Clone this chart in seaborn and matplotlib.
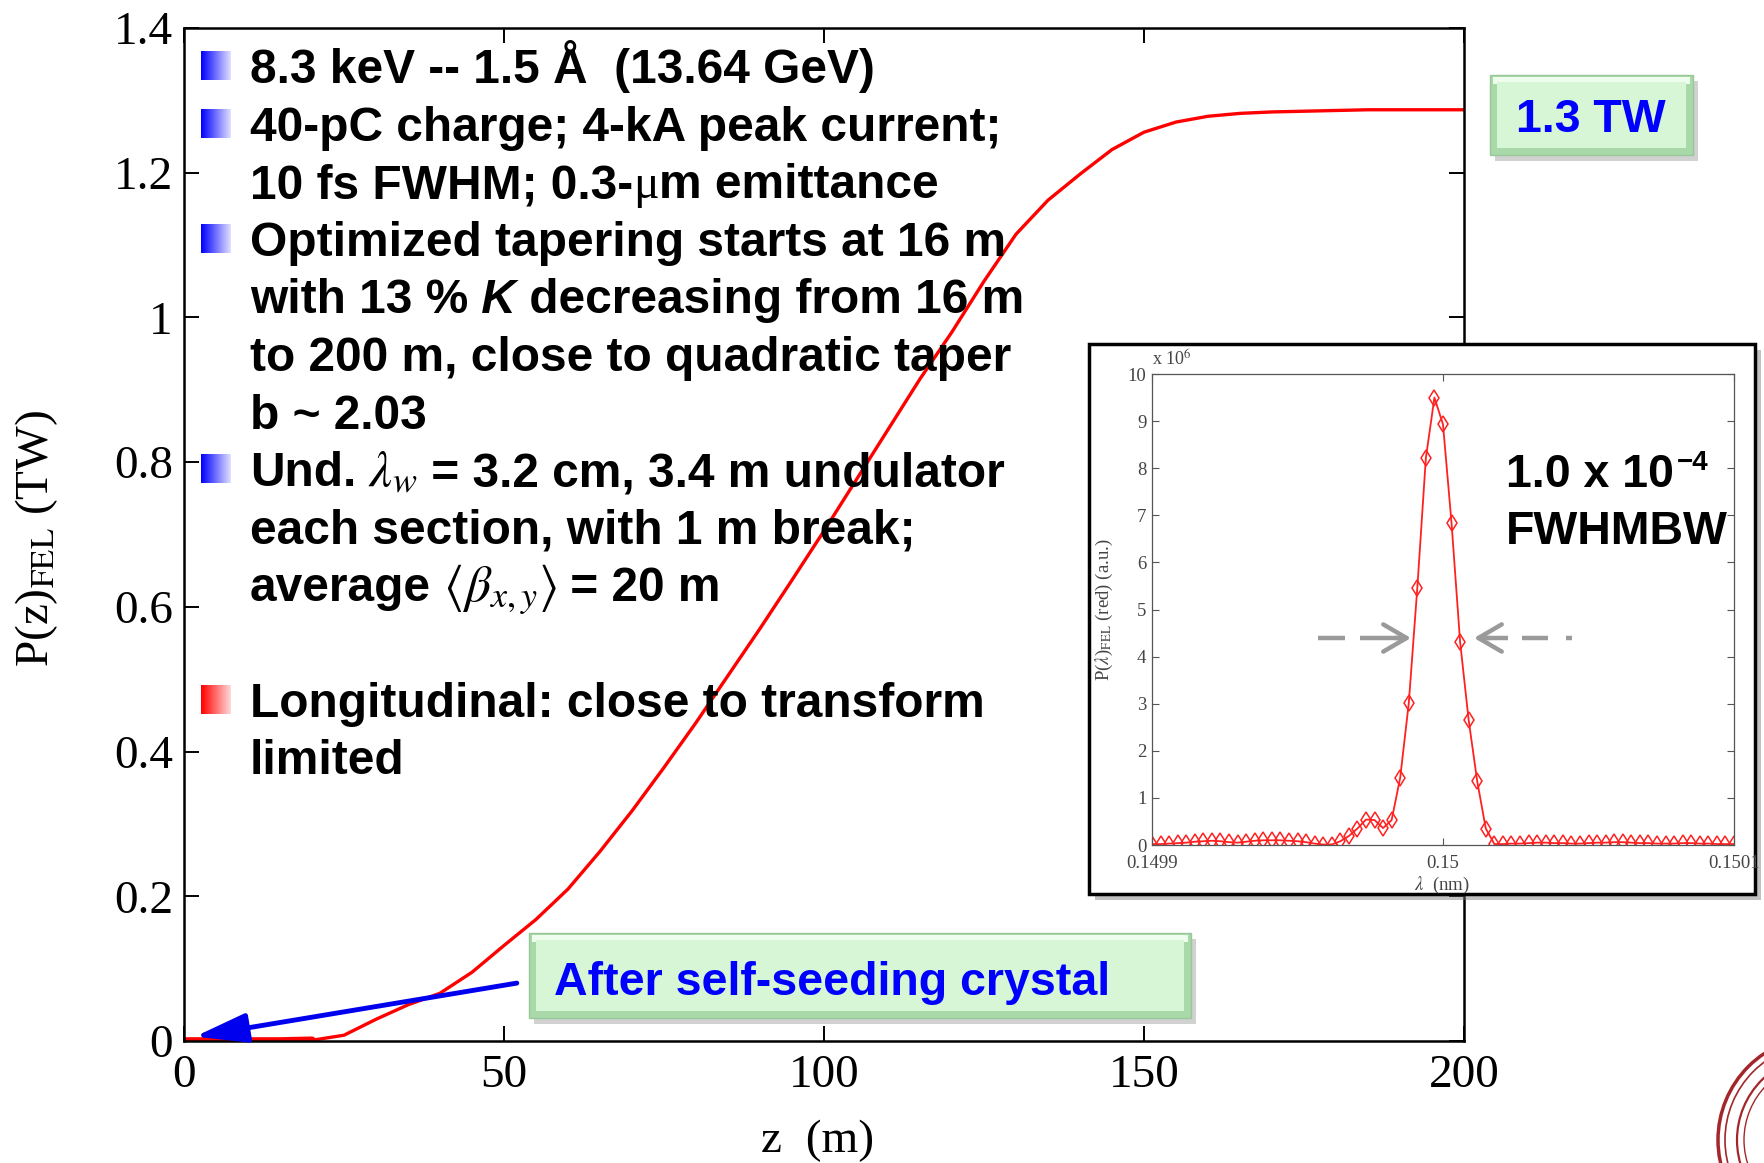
import numpy as np
import matplotlib
matplotlib.use("Agg")
import matplotlib.pyplot as plt
import seaborn as sns
import pandas as pd
from matplotlib.patches import Rectangle, Circle
from matplotlib.font_manager import FontProperties

W, H = 1765, 1163

# FEL power along the undulator (TW)
z_m = [0, 5, 10, 15, 20, 25, 30, 35, 40, 45, 50, 55, 60, 65, 70, 75, 80, 85,
       90, 95, 100, 105, 110, 115, 120, 125, 130, 135, 140, 145, 150, 155, 160,
       165, 170, 175, 180, 185, 190, 195, 200]
p_tw = [0.0, 0.0, 0.0, 0.0, 0.001, 0.008, 0.03, 0.05, 0.066, 0.095, 0.132,
        0.168, 0.21, 0.262, 0.318, 0.378, 0.44, 0.505, 0.57, 0.637, 0.705,
        0.775, 0.845, 0.915, 0.98, 1.05, 1.115, 1.162, 1.198, 1.232, 1.256,
        1.27, 1.278, 1.282, 1.284, 1.285, 1.286, 1.287, 1.287, 1.287, 1.287]
x_ticks = [0, 50, 100, 150, 200]
y_ticks = [0, 0.2, 0.4, 0.6, 0.8, 1.0, 1.2, 1.4]
y_tick_labels = ["0", "0.2", "0.4", "0.6", "0.8", "1", "1.2", "1.4"]

# Output spectrum (a.u., x 1e6) on a uniform wavelength grid
lam_lo, lam_hi = 0.1499, 0.1501
spec_au = [0.02, 0.02, 0.03, 0.04, 0.05, 0.07, 0.08, 0.09, 0.08, 0.06, 0.05,
           0.07, 0.09, 0.10, 0.10, 0.10, 0.09, 0.08, 0.06, 0.03, 0.01, 0.01,
           0.08, 0.19, 0.35, 0.54, 0.53, 0.36, 0.53, 1.43, 3.01, 5.46, 8.22,
           9.50, 8.93, 6.83, 4.31, 2.65, 1.35, 0.35, 0.02,
           0.02, 0.03, 0.03, 0.04, 0.05, 0.05, 0.04, 0.04, 0.03, 0.03, 0.04,
           0.05, 0.05, 0.06, 0.06, 0.05, 0.04, 0.04, 0.03, 0.03, 0.03, 0.04,
           0.04, 0.03, 0.03, 0.02, 0.02, 0.02]
lam_ticks = [0.1499, 0.15, 0.1501]
lam_tick_labels = ["0.1499", "0.15", "0.1501"]

sns.set_theme(style="ticks")
plt.rcParams["font.family"] = ["Liberation Serif", "DejaVu Serif"]
plt.rcParams["mathtext.fontset"] = "stix"
plt.rcParams["text.color"] = "black"
plt.rcParams["xtick.color"] = "black"
plt.rcParams["ytick.color"] = "black"
plt.rcParams["axes.labelcolor"] = "black"

fig = plt.figure(figsize=(W / 100, H / 100), dpi=100)

# ---------------- main power curve ----------------
ax = fig.add_axes([184 / W, 1 - 1041 / H, 1280 / W, 1013 / H], zorder=0)
df = pd.DataFrame({"z": z_m, "P": p_tw})
sns.lineplot(data=df, x="z", y="P", ax=ax, color="#ff0000", lw=2.4)
sns.lineplot(data=df[df["z"] <= 22], x="z", y="P", ax=ax, color="#ff0000", lw=5.5)
ax.set_xlim(0, 200)
ax.set_ylim(0, 1.4)
ax.set_xticks(x_ticks)
ax.set_xticklabels([str(v) for v in x_ticks])
ax.set_yticks(y_ticks)
ax.set_yticklabels(y_tick_labels)
ax.set_xlabel("")
ax.set_ylabel("")
ax.tick_params(direction="in", length=11, width=1.4, top=True, right=True,
               labelsize=34, colors="black")
ax.tick_params(axis="y", pad=8)
ax.tick_params(axis="x", pad=10)
for s in ax.spines.values():
    s.set_linewidth(1.8)
    s.set_color("black")

ax.annotate("", xy=(1.7, 0.006), xytext=(52, 0.08),
            arrowprops=dict(arrowstyle="-|>,head_length=1.6,head_width=0.45",
                            color="#0000ee", lw=3.5, mutation_scale=20,
                            shrinkA=0, shrinkB=0))

# ---------------- overlay in pixel coordinates ----------------
ov = fig.add_axes([0, 0, 1, 1], zorder=1)
ov.set_xlim(0, W)
ov.set_ylim(H, 0)
ov.axis("off")
ov.patch.set_alpha(0)

ov.text(37, 538, "P(z)$_{\\mathrm{FEL}}$ (TW)", rotation=90, ha="center",
        va="center", fontsize=34, family="Liberation Serif", color="black")
ov.text(818, 1152, "z  (m)", ha="center", va="baseline", fontsize=34,
        family="Liberation Serif", color="black")

renderer = fig.canvas.get_renderer()
FS = 34.5
f_b = FontProperties(family="Liberation Sans", weight="bold", size=FS)
f_bi = FontProperties(family="Liberation Sans", weight="bold", style="italic", size=FS)
f_s = FontProperties(family="Liberation Serif", size=FS)
f_m = FontProperties(size=37)
styles = {"b": f_b, "bi": f_bi, "s": f_s, "m": f_m}


def draw_runs(x, y, runs, color="black"):
    for txt, st in runs:
        t = ov.text(x, y, txt, fontproperties=styles[st], va="baseline",
                    ha="left", color=color)
        x += t.get_window_extent(renderer).width
    return x


lines = [
    [("8.3 keV -- 1.5 Å  (13.64 GeV)", "b")],
    [("40-pC charge; 4-kA peak current;", "b")],
    [("10 fs FWHM; 0.3-", "b"), ("μ", "s"), ("m emittance", "b")],
    [("Optimized tapering starts at 16 m", "b")],
    [("with 13 %", "b"), (" K", "bi"), (" decreasing from 16 m", "b")],
    [("to 200 m, close to quadratic taper", "b")],
    [("b ~ 2.03", "b")],
    [("Und.", "b"), (" $\\lambda_w$", "m"), (" = 3.2 cm, 3.4 m undulator", "b")],
    [("each section, with 1 m break;", "b")],
    [("average", "b"), (" $\\langle\\beta_{x,y}\\rangle$", "m"), (" = 20 m", "b")],
    [],
    [("Longitudinal: close to transform", "b")],
    [("limited", "b")],
]
bullet_rows = {0: "blue", 1: "blue", 3: "blue", 7: "blue", 11: "red"}
grad = np.linspace(0, 1, 64)[None, :]
for i, runs in enumerate(lines):
    base = 83 + 57.6 * i
    if runs:
        draw_runs(250, base, runs)
    if i in bullet_rows:
        if bullet_rows[i] == "blue":
            rgb = np.stack([0.0 + 0.88 * grad, 0.0 + 0.88 * grad,
                            np.ones_like(grad)], axis=-1)
        else:
            rgb = np.stack([np.ones_like(grad), 0.0 + 0.85 * grad,
                            0.0 + 0.85 * grad], axis=-1)
        ov.imshow(rgb, extent=(201, 231, base - 3, base - 32), aspect="auto",
                  interpolation="bilinear", zorder=3)
ov.set_xlim(0, W)
ov.set_ylim(H, 0)


def bevel_box(x0, y0, x1, y1):
    w, h = x1 - x0, y1 - y0
    ov.add_patch(Rectangle((x0 + 5, y0 + 6), w, h, fc="black", alpha=0.18,
                           ec="none", zorder=2))
    ov.add_patch(Rectangle((x0, y0), w, h, fc="#a9d9a9", ec="#98c898",
                           lw=1, zorder=2))
    ov.add_patch(Rectangle((x0 + 3, y0 + 2), w - 6, 7, fc="#effdef",
                           ec="none", zorder=2))
    ov.add_patch(Rectangle((x0 + 7, y0 + 7), w - 14, h - 14, fc="#d6f6d6",
                           ec="none", zorder=2))


bevel_box(1490, 75, 1693, 155)
ov.text(1591, 115, "1.3 TW", fontproperties=FontProperties(
    family="Liberation Sans", weight="bold", size=33.5), color="#0000ff",
    ha="center", va="center_baseline", zorder=4)
bevel_box(529, 933, 1191, 1018)
ov.text(554, 995, "After self-seeding crystal", fontproperties=FontProperties(
    family="Liberation Sans", weight="bold", size=33.5), color="#0000ff",
    ha="left", va="baseline", zorder=4)

# inset frame
ov.add_patch(Rectangle((1095, 350), 666, 550, fc="#777777", alpha=0.45,
                       ec="none", zorder=2))
ov.add_patch(Rectangle((1089, 344), 666, 550, fc="white", ec="black", lw=2.5,
                       zorder=2))

# seal in the corner
for r, lw in [(104, 2.5), (97, 1.2), (85, 1.6), (78, 1.0)]:
    ov.add_patch(Circle((1822, 1140), r, fill=False, ec="#a3262a", lw=lw,
                        zorder=2))

# inset annotations
ov.text(1152, 366, "x 10$^6$", fontsize=13, color="#444444", ha="left",
        va="baseline", family="Liberation Serif", zorder=4)
ov.text(1104, 610, "P($\\lambda$)$_{\\mathrm{FEL}}$ (red) (a.u.)", rotation=90,
        fontsize=13.5, color="#444444", ha="center", va="center",
        family="Liberation Serif", zorder=4)
ov.text(1442, 885, "$\\lambda$  (nm)", fontsize=13.5, color="#444444",
        ha="center", va="center", family="Liberation Serif", zorder=4)
f_big = FontProperties(family="Liberation Sans", weight="bold", size=33.5)
f_sup = FontProperties(family="Liberation Sans", weight="bold", size=20)
t1 = ov.text(1506, 487, "1.0 x 10", fontproperties=f_big, va="baseline",
             ha="left", zorder=4, color="black")
xe = 1506 + t1.get_window_extent(renderer).width + 3
ov.text(xe, 470, "\u22124", fontproperties=f_sup, va="baseline", ha="left",
        zorder=4, color="black")

gray = "#9a9a9a"
ov.plot([1318, 1345], [638, 638], color=gray, lw=3.2, zorder=4,
        solid_capstyle="butt")
ov.plot([1360, 1405], [638, 638], color=gray, lw=3.2, zorder=4,
        solid_capstyle="butt")
ov.annotate("", xy=(1411, 638), xytext=(1395, 638), zorder=4,
            arrowprops=dict(arrowstyle="->,head_length=1.2,head_width=0.7",
                            color=gray, lw=3.2, mutation_scale=14,
                            shrinkA=0, shrinkB=0))
ov.plot([1480, 1508], [638, 638], color=gray, lw=3.2, zorder=4,
        solid_capstyle="butt")
ov.plot([1522, 1548], [638, 638], color=gray, lw=3.2, zorder=4,
        solid_capstyle="butt")
ov.plot([1566, 1572], [638, 638], color=gray, lw=3.2, zorder=4,
        solid_capstyle="butt")
ov.annotate("", xy=(1474, 638), xytext=(1490, 638), zorder=4,
            arrowprops=dict(arrowstyle="->,head_length=1.2,head_width=0.7",
                            color=gray, lw=3.2, mutation_scale=14,
                            shrinkA=0, shrinkB=0))
ov.set_xlim(0, W)
ov.set_ylim(H, 0)

# ---------------- spectrum inset ----------------
ins = fig.add_axes([1152 / W, 1 - 845 / H, 582 / W, 471 / H], zorder=3)
ins.patch.set_alpha(0)
lam = np.linspace(lam_lo, lam_hi, len(spec_au))
sdf = pd.DataFrame({"lam": lam, "P": spec_au})
sns.lineplot(data=sdf, x="lam", y="P", ax=ins, color="#ff2020", lw=1.3,
             marker="d", markersize=8, markerfacecolor="none",
             markeredgecolor="#ff2020", markeredgewidth=1.1)
ins.set_xlim(lam_lo, lam_hi)
ins.set_ylim(0, 10)
ins.set_xticks(lam_ticks)
ins.set_xticklabels(lam_tick_labels)
ins.set_yticks(range(0, 11))
ins.set_yticklabels([str(v) for v in range(0, 11)])
ins.set_xlabel("")
ins.set_ylabel("")
ins.tick_params(direction="in", length=5, width=0.8, top=True, right=True,
                labelsize=13.5, labelcolor="#444444", color="#555555", pad=4)
ins.tick_params(axis="x", pad=7)
for s in ins.spines.values():
    s.set_linewidth(0.9)
    s.set_color("#555555")

# large bandwidth label drawn above the inset frame line
fig.text(1506 / W, 1 - 544 / H, "FWHMBW", fontproperties=f_big, va="baseline",
         ha="left", color="black", zorder=5)

fig.savefig("out.png", dpi=100)
